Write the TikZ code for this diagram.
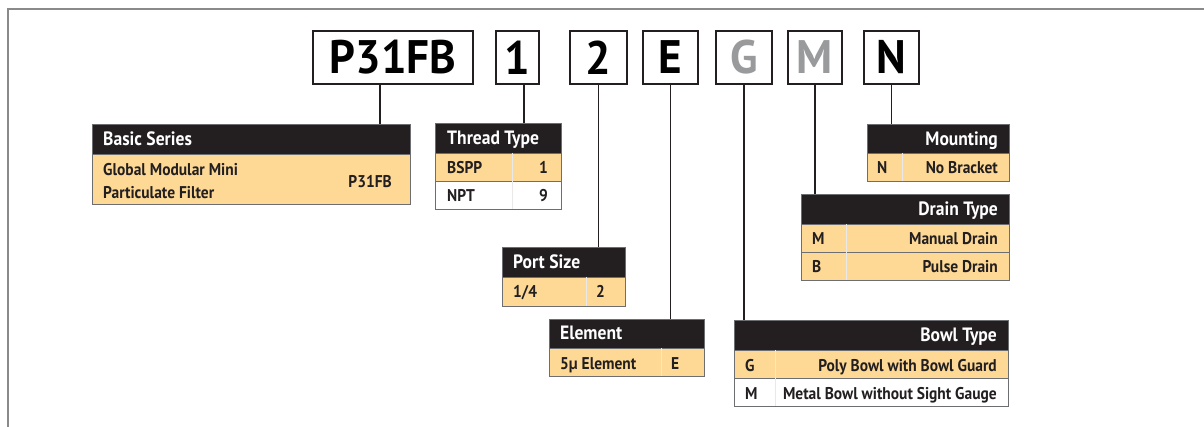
\documentclass[tikz,border=0pt]{standalone}
\usepackage{fontspec}
\setmainfont{PT Sans}
\newfontfamily\dinfont{PT Sans}[FakeStretch=0.91]
\newfontfamily\dincode{PT Sans}[FakeStretch=0.96]
\definecolor{hdr}{HTML}{231F20}
\definecolor{orng}{HTML}{FDD995}
\definecolor{edge}{HTML}{6D6E71}
\definecolor{greycode}{HTML}{999A9C}
\definecolor{framegrey}{HTML}{8A8A8A}
\tikzset{
  codebox/.style={draw=hdr, line width=1.2pt, fill=white, minimum height=53pt, inner sep=0pt, font=\dincode\fontsize{47}{47}\selectfont\bfseries},
  headbar/.style={fill=hdr, draw=edge, line width=0.8pt, anchor=north west, inner sep=0pt, minimum height=30pt},
  rowbox/.style={draw=edge, line width=0.8pt, anchor=north west, inner sep=0pt, minimum height=28pt},
  htext/.style={text=white, inner sep=0pt, font=\dinfont\fontsize{19.3}{19.3}\selectfont\bfseries},
  rtext/.style={text=hdr, inner sep=0pt, font=\dinfont\fontsize{17}{17}\selectfont\bfseries},
  link/.style={draw=hdr, line width=1.4pt},
  divider/.style={draw=edge!15, line width=0.5pt}
}
\begin{document}
\begin{tikzpicture}[x=1pt,y=-1pt]
\useasboundingbox (0,0) rectangle (1204,427);
\draw [framegrey, line width=1.5pt] (8,427) -- (8,9) -- (1204,9);
% code boxes
\node [codebox, minimum width=160pt] (c0) at (393,57.5) {P31FB};
\node [codebox, minimum width=43pt] (c1) at (517.5,57.5) {1};
\node [codebox, minimum width=57pt] (c2) at (598.5,57.5) {2};
\node [codebox, minimum width=55pt] (c3) at (670.5,57.5) {E};
\node [codebox, minimum width=56pt, text=greycode] (c4) at (744,57.5) {G};
\node [codebox, minimum width=54pt, text=greycode] (c5) at (815,57.5) {M};
\node [codebox, minimum width=55pt] (c6) at (891.5,57.5) {N};
% basic series
\node [headbar, minimum width=318pt] (bsh) at (92,124) {};
\node [rowbox, fill=orng, minimum width=318pt, minimum height=50pt] (bsr) at (92,154) {};
\node [htext, anchor=base west] at (103,145.5) {Basic Series};
\node [rtext, anchor=base west] at (103,175.7) {Global Modular Mini};
\node [rtext, anchor=base west] at (103,199) {Particulate Filter};
\node [rtext, anchor=base east] at (392,188) {P31FB};
% thread type
\node [headbar, minimum width=126pt] (tth) at (435,123) {};
\node [rowbox, fill=orng, minimum width=126pt] (ttr1) at (435,153) {};
\node [rowbox, fill=white, minimum width=126pt] (ttr2) at (435,181) {};
\draw [divider] (512,153) -- (512,209);
\node [htext, anchor=base west] at (447,144.5) {Thread Type};
\node [rtext, anchor=base west] at (447,174) {BSPP};
\node [rtext, anchor=base east] at (548,174) {1};
\node [rtext, anchor=base west] at (447,202) {NPT};
\node [rtext, anchor=base east] at (548,202) {9};
% port size
\node [headbar, minimum width=123pt] (psh) at (502,247) {};
\node [rowbox, fill=orng, minimum width=123pt, minimum height=29pt] (psr) at (502,277) {};
\draw [divider] (586,277) -- (586,306);
\node [htext, anchor=base west] at (513,268.5) {Port Size};
\node [rtext, anchor=base west] at (513,298) {1/4};
\node [rtext, anchor=base west] at (596,298) {2};
% element
\node [headbar, minimum width=155pt, minimum height=29pt] (elh) at (549,319) {};
\node [rowbox, fill=orng, minimum width=155pt] (elr) at (549,348) {};
\draw [divider] (661,348) -- (661,376);
\node [htext, anchor=base west] at (560,340) {Element};
\node [rtext, anchor=base west] at (560,369) {5µ Element};
\node [rtext, anchor=base west] at (671,369) {E};
% mounting
\node [headbar, minimum width=142pt, minimum height=29pt] (mth) at (867,124) {};
\node [rowbox, fill=orng, minimum width=142pt] (mtr) at (867,153) {};
\draw [divider] (902,153) -- (902,181);
\node [htext, anchor=base east] at (998,145.5) {Mounting};
\node [rtext, anchor=base west] at (877,174) {N};
\node [rtext, anchor=base east] at (998,174) {No Bracket};
% drain type
\node [headbar, minimum width=208pt] (dth) at (801,194) {};
\node [rowbox, fill=orng, minimum width=208pt] (dtr1) at (801,224) {};
\node [rowbox, fill=orng, minimum width=208pt] (dtr2) at (801,252) {};
\draw [divider] (846,224) -- (846,280);
\node [htext, anchor=base east] at (998,215.5) {Drain Type};
\node [rtext, anchor=base west] at (812,245) {M};
\node [rtext, anchor=base east] at (998,245) {Manual Drain};
\node [rtext, anchor=base west] at (812,273) {B};
\node [rtext, anchor=base east] at (998,273) {Pulse Drain};
% bowl type
\node [headbar, minimum width=274pt] (bth) at (734,320) {};
\node [rowbox, fill=orng, minimum width=274pt] (btr1) at (734,350) {};
\node [rowbox, fill=white, minimum width=274pt] (btr2) at (734,378) {};
\draw [divider] (775,350) -- (775,406);
\node [htext, anchor=base east] at (997,341.7) {Bowl Type};
\node [rtext, anchor=base west] at (745,371) {G};
\node [rtext, anchor=base east] at (997,371) {Poly Bowl with Bowl Guard};
\node [rtext, anchor=base west] at (745,399) {M};
\node [rtext, anchor=base east] at (997,399) {Metal Bowl without Sight Gauge};
% connectors
\draw [link] ([xshift=-13pt]c0.south) -- ([xshift=-13pt]c0.south |- bsh.north);
\draw [link] ([xshift=6.5pt]c1.south) -- ([xshift=6.5pt]c1.south |- tth.north);
\draw [link] (c2.south) -- (c2.south |- psh.north);
\draw [link] (c3.south) -- (c3.south |- elh.north);
\draw [link] (c4.south) -- (c4.south |- bth.north);
\draw [link] (c5.south) -- (c5.south |- dth.north);
\draw [link] (c6.south) -- (c6.south |- mth.north);
\end{tikzpicture}
\end{document}
